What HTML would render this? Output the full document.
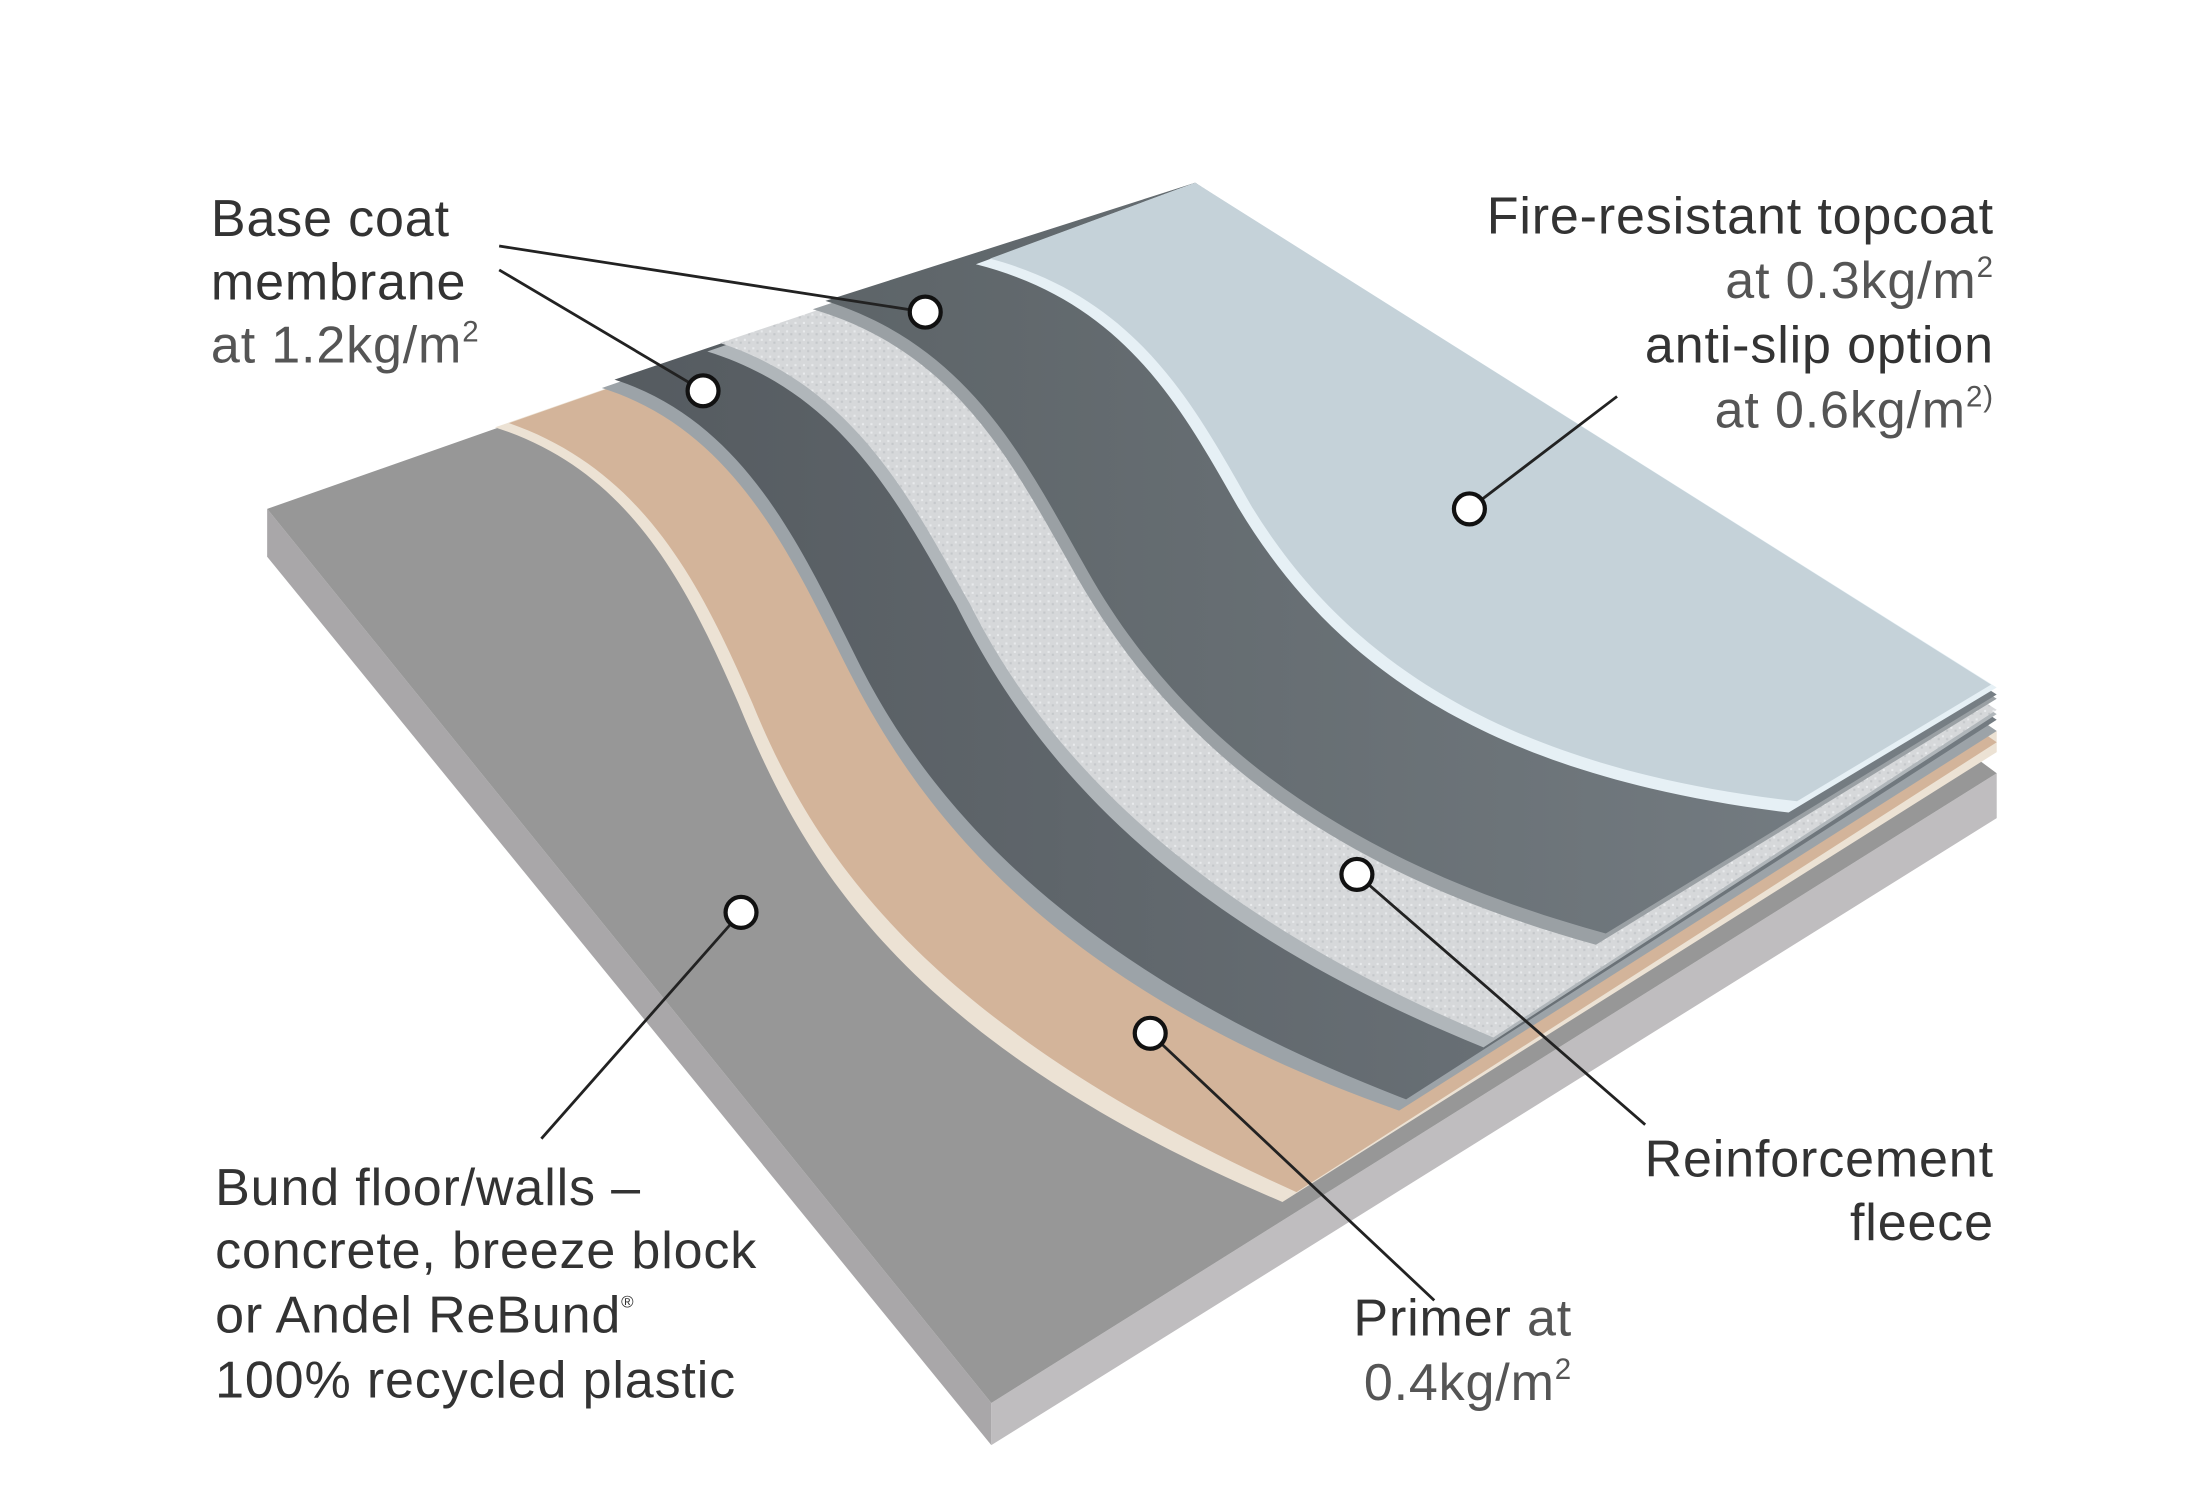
<!DOCTYPE html>
<html><head><meta charset="utf-8"><style>
html,body{margin:0;padding:0;background:#fff;}
svg{display:block;}
text{font-family:"Liberation Sans",sans-serif;font-size:37px;letter-spacing:0.6px;}
.d{fill:#333;}
.l{fill:#555;}
</style></head><body>
<svg width="2202" height="1500" viewBox="0 0 1566 1067" preserveAspectRatio="none" xmlns="http://www.w3.org/2000/svg">
<defs>
<linearGradient id="g1" x1="0" y1="0" x2="1" y2="0"><stop offset="0" stop-color="#555b60"/><stop offset="1" stop-color="#737b81"/></linearGradient>
<linearGradient id="g2" x1="0" y1="0" x2="1" y2="0"><stop offset="0" stop-color="#5d6468"/><stop offset="1" stop-color="#777f85"/></linearGradient>
<pattern id="spk" width="6" height="6" patternUnits="userSpaceOnUse"><rect width="6" height="6" fill="#d6d8da"/><rect x="1" y="1" width="1.5" height="1.5" fill="#e8eaec"/><rect x="4" y="3" width="1.5" height="1.5" fill="#c4c7ca"/></pattern>
</defs>
<polygon points="190,362 190,396 705,1028 705,998" fill="#a9a7a9"/>
<polygon points="705,998 1420,550 1420,582 705,1028" fill="#bfbdbf"/>
<polygon points="190,362 850,130 1420,550 705,998" fill="#979797"/>
<path d="M352,304 C450,335 490,420 525,500 C570,610 640,740 912,855 L1420,535 L1420,520 L850,130 Z" fill="#ece2d4"/>
<path d="M362,301 C460,335 500,420 535,500 C580,610 660,730 922,848 L1420,528 L850,130 Z" fill="#d3b49a"/>
<path d="M428,276 C520,305 560,390 600,470 C650,570 740,700 995,790 L1420,520 L850,130 Z" fill="#9ca3a8"/>
<path d="M437,270 C530,300 570,390 610,470 C660,570 760,690 1000,782 L1420,512 L850,130 Z" fill="url(#g1)"/>
<path d="M503,250 C600,280 640,360 680,430 C730,530 820,650 1055,745 L1420,508 L850,130 Z" fill="#b0b6ba"/>
<path d="M512,244 C610,276 650,360 690,430 C740,530 840,645 1062,738 L1420,505 L850,130 Z" fill="url(#spk)"/>
<path d="M578,220 C680,250 720,330 760,400 C815,500 910,610 1135,672 L1420,497 L850,130 Z" fill="#9aa0a4"/>
<path d="M587,214 C690,246 730,330 770,400 C825,500 925,605 1142,664 L1420,494 L850,130 Z" fill="url(#g2)"/>
<path d="M694,188 C800,215 840,290 880,360 C940,460 1040,550 1272,578 L1420,489 L850,130 Z" fill="#e6f0f5"/>
<path d="M704,184 C810,212 850,290 890,360 C950,458 1055,545 1278,570 L1416,487 L850,130 Z" fill="#c5d2d9"/>
<g stroke="#222" stroke-width="2" fill="none">
<line x1="355" y1="175" x2="658" y2="222"/>
<line x1="355" y1="192" x2="500" y2="278"/>
<line x1="1150" y1="282" x2="1045" y2="362"/>
<line x1="965" y1="622" x2="1170" y2="800"/>
<line x1="818" y1="735" x2="1020" y2="925"/>
<line x1="527" y1="649" x2="385" y2="810"/>
</g>
<g fill="#fff" stroke="#111" stroke-width="3">
<circle cx="658" cy="222" r="11"/><circle cx="500" cy="278" r="11"/>
<circle cx="1045" cy="362" r="11"/><circle cx="965" cy="622" r="11"/>
<circle cx="818" cy="735" r="11"/><circle cx="527" cy="649" r="11"/>
</g>
<text x="150" y="168" class="d">Base coat</text>
<text x="150" y="213" class="d">membrane</text>
<text x="150" y="258" class="l">at 1.2kg/m<tspan font-size="21" dy="-15">2</tspan></text>
<g text-anchor="end">
<text x="1418" y="166" class="d">Fire-resistant topcoat</text>
<text x="1418" y="212" class="l">at 0.3kg/m<tspan font-size="21" dy="-15">2</tspan></text>
<text x="1418" y="258" class="d">anti-slip option</text>
<text x="1418" y="304" class="l">at 0.6kg/m<tspan font-size="21" dy="-15">2)</tspan></text>
<text x="1418" y="837" class="d">Reinforcement</text>
<text x="1418" y="882" class="d">fleece</text>
<text x="1118" y="950"><tspan class="d">Primer</tspan><tspan class="l"> at</tspan></text>
<text x="1118" y="996" class="l">0.4kg/m<tspan font-size="21" dy="-15">2</tspan></text>
</g>
<text x="153" y="857" class="d">Bund floor/walls –</text>
<text x="153" y="902" class="d">concrete, breeze block</text>
<text x="153" y="948" class="d">or Andel ReBund<tspan font-size="12" dy="-18">®</tspan></text>
<text x="153" y="994" class="d">100% recycled plastic</text>
</svg>
</body></html>
